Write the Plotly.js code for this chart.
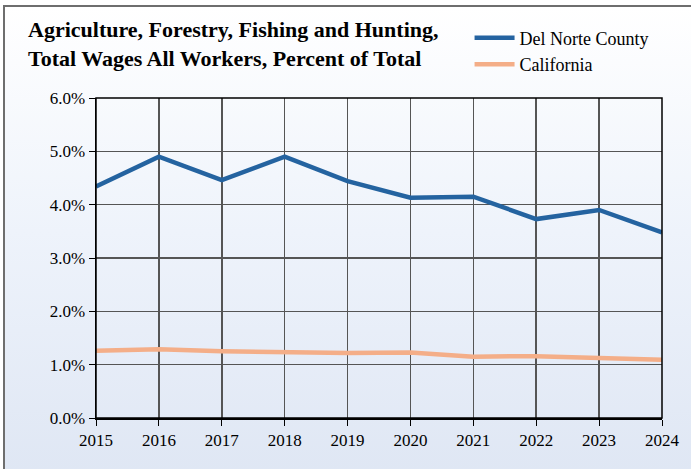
<!DOCTYPE html>
<html><head><meta charset="utf-8">
<script src="https://cdn.plot.ly/plotly-3.0.1.min.js"></script>
<style>
html,body{margin:0;padding:0;width:691px;height:469px;overflow:hidden;background:#fff;}
#frame{position:absolute;left:3px;top:5px;width:720px;height:500px;border:2px solid #6e6e6e;
background:linear-gradient(to bottom,#ffffff 0%,#eef3fb 45%,#dde5f3 100%);}
#chart{position:absolute;left:0;top:0;width:691px;height:469px;}
</style></head>
<body><div id="frame"></div><div id="chart"></div>
<script>
const years = [2015,2016,2017,2018,2019,2020,2021,2022,2023,2024];
const delNorte = [4.34,4.90,4.46,4.90,4.44,4.13,4.15,3.73,3.90,3.48];
const california = [1.26,1.29,1.25,1.23,1.22,1.23,1.15,1.16,1.13,1.09];
const yTicks = [0,1,2,3,4,5,6];
const yTickText = yTicks.map(v => v.toFixed(1) + '%');

const traces = [
 {x: years, y: delNorte, name: 'Del Norte County', mode: 'lines', line: {color: '#2463a0', width: 4.5}},
 {x: years, y: california, name: 'California', mode: 'lines', line: {color: '#f4ae88', width: 4.5}}
];
const layout = {
 width: 691, height: 469,
 margin: {l: 96, r: 29, t: 98, b: 51},
 paper_bgcolor: 'rgba(0,0,0,0)', plot_bgcolor: 'rgba(0,0,0,0)',
 font: {family: '"Liberation Serif", "Times New Roman", serif', color: '#000', size: 17},
 showlegend: true,
 legend: {x: 0.66, y: 1.245, xanchor: 'left', yanchor: 'top', bgcolor: 'rgba(0,0,0,0)',
   font: {size: 18}, tracegroupgap: 0, itemwidth: 40},
 xaxis: {range: [2015, 2024], tickvals: years, ticktext: years.map(String),
   showgrid: true, gridcolor: '#555', gridwidth: 1.5, showline: true, linecolor: '#000', linewidth: 1.5,
   ticks: 'outside', ticklen: 6, tickcolor: '#000', zeroline: false, mirror: false},
 yaxis: {range: [0, 6], tickvals: yTicks, ticktext: yTickText,
   showgrid: true, gridcolor: '#555', gridwidth: 1.5, showline: true, linecolor: '#000', linewidth: 1.5,
   ticks: 'outside', ticklen: 6, tickcolor: '#000', zeroline: false},
 annotations: [{xref: 'paper', yref: 'paper', x: -0.124, y: 1.258, xanchor: 'left', yanchor: 'top', align: 'left',
   showarrow: false, text: '<b>Agriculture, Forestry, Fishing and Hunting,<br>Total Wages All Workers, Percent of Total</b>',
   font: {size: 22, color: '#000'}}],
 shapes: [{type: 'rect', xref: 'paper', yref: 'paper', x0: 0, x1: 1, y0: 0, y1: 1, line: {color: '#000', width: 1.5}}]
};
Plotly.newPlot('chart', traces, layout, {displayModeBar: false, staticPlot: true});
</script></body></html>
